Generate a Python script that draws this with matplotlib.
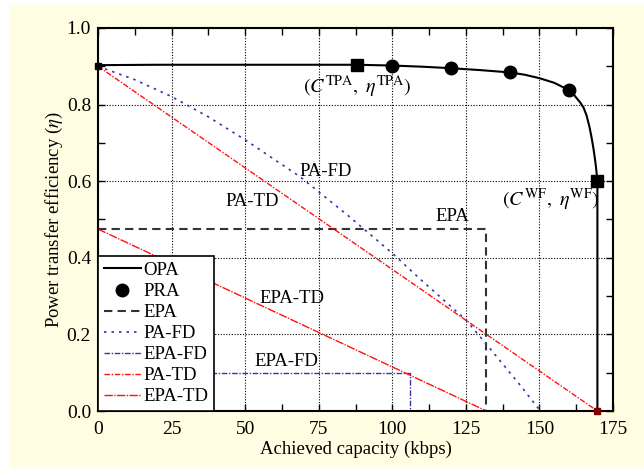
import matplotlib
matplotlib.use('Agg')
import matplotlib.pyplot as plt
from matplotlib.patches import Rectangle
from matplotlib.ticker import MultipleLocator, FormatStrFormatter

plt.rcParams['font.family'] = ['Liberation Serif', 'DejaVu Serif']
plt.rcParams['mathtext.fontset'] = 'stix'
plt.rcParams['font.size'] = 13.5

# OPA curve (optimal power allocation) with key points
opa_x = [0, 20, 40, 60, 88, 100, 110, 120, 130, 140, 145, 150, 155, 160, 162, 164,
         165, 166, 167, 167.7, 168.3, 168.8, 169.2, 169.5, 169.7, 169.7]
opa_y = [0.903, 0.904, 0.904, 0.904, 0.904, 0.902, 0.899, 0.895, 0.890, 0.884, 0.878, 0.869, 0.857, 0.838, 0.823, 0.804,
         0.792, 0.772, 0.742, 0.715, 0.688, 0.662, 0.638, 0.616, 0.6, 0.0]
pra_x = [100, 120, 140, 160]
pra_y = [0.902, 0.895, 0.884, 0.838]
key_x = [88, 169.7]
key_y = [0.904, 0.6]

# EPA (equal power allocation)
epa_x = [0, 132, 132]
epa_y = [0.475, 0.475, 0.0]

# PA-FD
pafd_x = [0, 12.5, 25, 37.5, 50, 68.6, 85, 100, 109.4, 125, 131.7, 143.4, 150.3]
pafd_y = [0.9, 0.865, 0.821, 0.768, 0.708, 0.612, 0.51, 0.412, 0.345, 0.238, 0.177, 0.068, 0.0]

# EPA-FD
epafd_x = [0, 106, 106]
epafd_y = [0.1, 0.1, 0.0]

# PA-TD and EPA-TD
patd_x = [0, 169.7]
patd_y = [0.9, 0.0]
epatd_x = [0, 132]
epatd_y = [0.475, 0.0]

blue = '#3535a8'
red = '#ff1010'

fig = plt.figure(figsize=(6.44, 4.68), dpi=100, facecolor='white')
fig.patches.append(Rectangle((10 / 644, 0), 634 / 644, 463 / 468,
                             transform=fig.transFigure, facecolor='#fffee2',
                             edgecolor='none', zorder=-10))
ax = fig.add_axes([98 / 644, 57 / 468, 515 / 644, 383 / 468])

ax.plot(opa_x, opa_y, color='black', lw=1.5, label='OPA', zorder=5)
ax.plot(pra_x, pra_y, 'o', color='black', ms=9, label='PRA', zorder=6)
ax.plot(epa_x, epa_y, color='#333333', lw=1.5, ls=(0, (4, 2.5)), label='EPA')
ax.plot(pafd_x, pafd_y, color=blue, lw=1.2, ls=(0, (1.5, 3)), label='PA-FD')
ax.plot(epafd_x, epafd_y, color=blue, lw=1.0, ls=(0, (4, 1.2, 1, 1.2)), label='EPA-FD')
ax.plot(patd_x, patd_y, color=red, lw=1.0, ls=(0, (4, 1.2, 1, 1.2)), label='PA-TD')
ax.plot(epatd_x, epatd_y, color=red, lw=1.0, ls=(0, (6, 1, 1, 1)), label='EPA-TD')

ax.plot(key_x, key_y, 's', color='black', ms=8, zorder=7)
ax.plot([0], [0.9], 's', color='black', ms=4, zorder=7, clip_on=False)
ax.plot([169.5], [0.0], 's', color='#800000', ms=4, zorder=7, clip_on=False)

ax.text(88, 0.846, r'$(C^{\mathrm{TPA}},\ \eta^{\mathrm{TPA}})$', ha='center', va='center', fontsize=14.5)
ax.text(154, 0.551, r'$(C^{\mathrm{WF}},\ \eta^{\mathrm{WF}})$', ha='center', va='center', fontsize=14.5)
ax.text(77.5, 0.625, 'PA-FD', ha='center', va='center')
ax.text(52.3, 0.547, 'PA-TD', ha='center', va='center')
ax.text(120.5, 0.507, 'EPA', ha='center', va='center')
ax.text(65.8, 0.294, 'EPA-TD', ha='center', va='center')
ax.text(63.9, 0.129, 'EPA-FD', ha='center', va='center')

ax.set_xlim(0, 175)
ax.set_ylim(0, 1.0)
ax.xaxis.set_major_locator(MultipleLocator(25))
ax.xaxis.set_minor_locator(MultipleLocator(12.5))
ax.yaxis.set_major_locator(MultipleLocator(0.2))
ax.yaxis.set_minor_locator(MultipleLocator(0.1))
ax.yaxis.set_major_formatter(FormatStrFormatter('%.1f'))
ax.tick_params(which='both', direction='in', top=True, right=True, length=5, width=1)
ax.tick_params(axis='both', labelsize=14)
ax.tick_params(axis='x', pad=7)
ax.tick_params(axis='y', pad=5)
ax.grid(True, which='major', color='black', ls=(0, (1, 1.5)), lw=0.8)
for s in ax.spines.values():
    s.set_linewidth(1.5)

ax.set_xlabel('Achieved capacity (kbps)', labelpad=2)
ax.set_ylabel(r'Power transfer efficiency ($\eta$)', labelpad=1)

leg = ax.legend(loc='lower left', borderaxespad=0, fancybox=False, framealpha=1,
                edgecolor='black', handlelength=2.0, handletextpad=0.1,
                labelspacing=0.21, borderpad=0.3)
leg.get_frame().set_linewidth(1.2)
leg.set_zorder(10)

fig.savefig('out.png', dpi=100, facecolor=fig.get_facecolor())
